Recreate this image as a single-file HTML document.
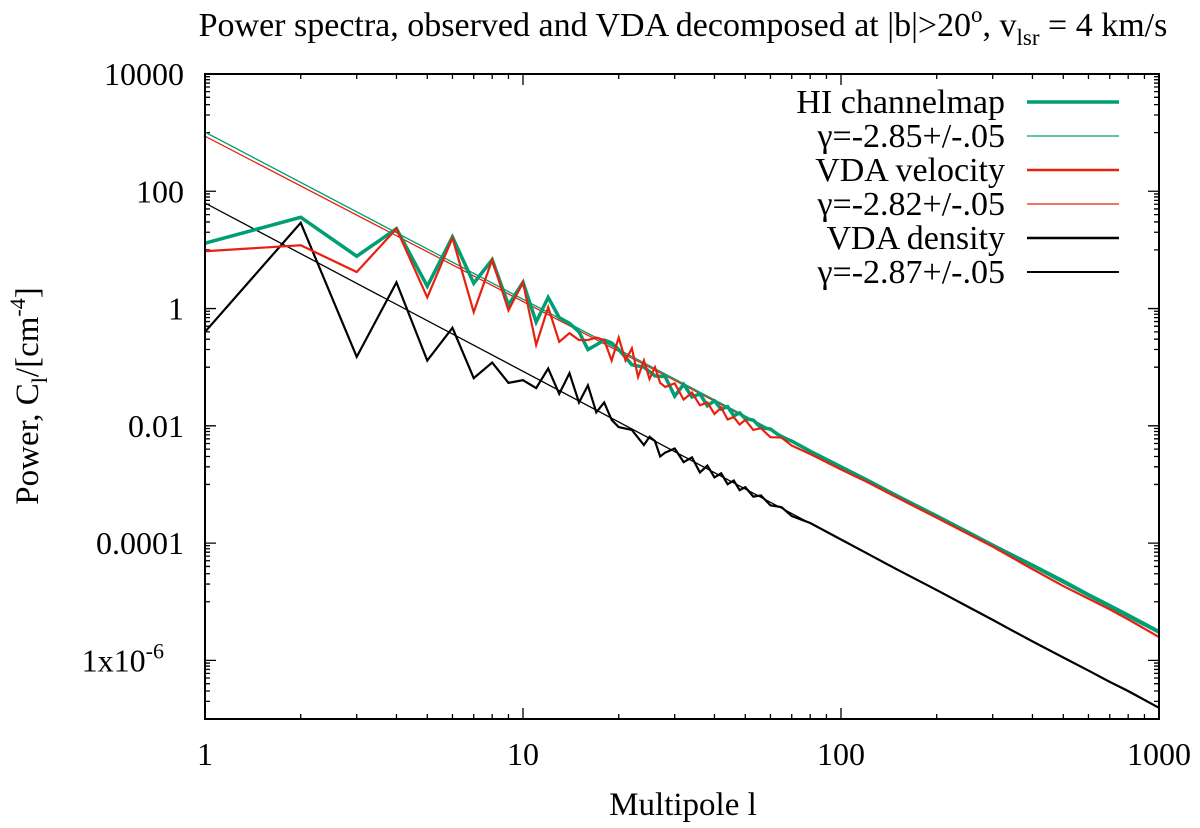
<!DOCTYPE html>
<html><head><meta charset="utf-8"><style>
html,body{margin:0;padding:0;background:#fff;}
svg{display:block;font-family:"Liberation Serif",serif;}
</style></head><body>
<svg id="chart" width="1200" height="828" viewBox="0 0 1200 828" xmlns="http://www.w3.org/2000/svg">
<text x="683" y="36" font-size="34" text-anchor="middle">Power spectra, observed and VDA decomposed at |b|&gt;20<tspan dy="-14" font-size="23">o</tspan><tspan dy="14">, v</tspan><tspan dy="9" font-size="23">lsr</tspan><tspan dy="-9"> = 4 km/s</tspan></text>
<text x="683" y="815" font-size="33" text-anchor="middle">Multipole l</text>
<text transform="translate(38,396) rotate(-90)" font-size="33" text-anchor="middle">Power,  C<tspan dy="9" font-size="22">l</tspan><tspan dy="-9">/[cm</tspan><tspan dy="-13" font-size="22">-4</tspan><tspan dy="13">]</tspan></text>
<g id="plot"></g>
<g id="legend"></g>
</svg>
<script>
// ---- data ----
const hiL = [1,2,3,4,5,6,7,8,9,10,11,12,13,14,15,16,17,18,19,20,22,24,26,28,30,32,34,36,38,40,42,44,46,48,50,53,56,60,65,70,80,100,120,150,200,250,300,400,500,600,700,800,1000];
const hiVals = [13,36,7.8,23,2.4,16.6,2.7,6.8,1.15,2.8,0.59,1.55,0.7,0.56,0.4,0.2,0.24,0.29,0.26,0.2,0.11,0.1,0.071,0.069,0.032,0.051,0.031,0.035,0.022,0.0267,0.0192,0.0212,0.0148,0.0166,0.0132,0.0125,0.0093,0.0088,0.0064,0.0055,0.0037,0.002,0.00121,0.00064,0.00029,0.000155,0.000092,0.000042,0.0000225,0.0000132,0.0000086,0.0000059,0.0000031];
const velL = [1,2,3,4,5,6,7,8,9,10,11,12,13,14,15,16,17,18,19,20,21,22,23,24,25,26,27,28,30,32,34,36,38,40,42,44,46,48,50,53,56,60,65,70,80,100,120,150,200,250,300,400,500,600,700,800,1000];
const velVals = [9.5,12,4.2,23,1.55,16,0.87,6.8,0.93,2.8,0.24,1.05,0.27,0.38,0.29,0.29,0.32,0.29,0.13,0.32,0.13,0.21,0.068,0.13,0.063,0.1,0.054,0.046,0.053,0.028,0.037,0.0224,0.025,0.0159,0.0205,0.0128,0.0141,0.0105,0.0126,0.0085,0.0091,0.0064,0.0063,0.0046,0.0033,0.0018,0.00112,0.0006,0.00027,0.000145,0.000087,0.000036,0.0000185,0.0000113,0.0000074,0.000005,0.0000025];
const denL = [1,2,3,4,5,6,7,8,9,10,11,12,13,14,15,16,17,18,19,20,22,24,25,26,27,28,30,32,34,36,38,40,42,44,46,48,50,53,56,60,65,70,80,100,120,150,200,250,300,400,500,600,700,800,1000];
const denVals = [0.4,29,0.15,2.8,0.13,0.47,0.065,0.12,0.054,0.06,0.044,0.095,0.035,0.079,0.025,0.049,0.017,0.025,0.0126,0.0095,0.0085,0.0047,0.0065,0.0055,0.003,0.0035,0.0041,0.0024,0.0029,0.0016,0.0021,0.00132,0.00155,0.00101,0.00117,0.0008,0.0009,0.00062,0.00065,0.00044,0.00041,0.00029,0.00022,0.000115,0.000068,0.0000355,0.0000158,0.0000083,0.0000049,0.0000021,0.00000112,0.00000067,0.00000043,0.0000003,0.000000155];
const fitAmp = [1020, 870, 63];
const fitGamma = [-2.85, -2.82, -2.87];
const xTickVals = [1,10,100,1000];
const xTickLabels = ["1","10","100","1000"];
const yTickExp = [4,2,0,-2,-4,-6];
const yTickLabels = ["10000","100","1","0.01","0.0001","1x10"];
const legendLabels = ["HI channelmap","γ=-2.85+/-.05","VDA velocity","γ=-2.82+/-.05","VDA density","γ=-2.87+/-.05"];

// ---- axes ----
const L=205,R=1159,T=74,B=719;
const xMinE=0,xMaxE=3,yMinE=-7,yMaxE=4;
function xs(v){return L+(Math.log10(v)-xMinE)/(xMaxE-xMinE)*(R-L);}
function ys(v){return B-(Math.log10(v)-yMinE)/(yMaxE-yMinE)*(B-T);}
const NS="http://www.w3.org/2000/svg";
const plot=document.getElementById('plot');
const legend=document.getElementById('legend');
function mk(tag,attrs,parent){const e=document.createElementNS(NS,tag);for(const k in attrs)e.setAttribute(k,attrs[k]);parent.appendChild(e);return e;}
const GREEN="#009e73",RED="#e8200f",BLACK="#000";

const defs=mk('defs',{},plot);
const cp=mk('clipPath',{id:'clip'},defs);
mk('rect',{x:L,y:T,width:R-L,height:B-T},cp);

const ticks=mk('g',{},plot);


let tp='';
for(let e=0;e<3;e++){for(let m=2;m<=9;m++){const x=xs(m*Math.pow(10,e));tp+=`M${x} ${B}v-5M${x} ${T}v5`;}}
xTickVals.forEach(v=>{const x=xs(v);tp+=`M${x} ${B}v-11M${x} ${T}v11`;});
yTickExp.forEach(e=>{const y=ys(Math.pow(10,e));tp+=`M${L} ${y}h11M${R} ${y}h-11`;
 for(let m=1;m<=9;m++){const yy=ys(m*Math.pow(10,e-1));if(yy<=B+0.1)tp+=`M${L} ${yy}h5M${R} ${yy}h-5`;}});
mk('path',{d:tp,stroke:'#000','stroke-width':1.3,fill:'none'},ticks);

xTickVals.forEach((v,i)=>{const t=mk('text',{x:xs(v),y:765,'font-size':32,'text-anchor':'middle'},plot);t.textContent=xTickLabels[i];
 
 });
yTickExp.forEach((e,i)=>{const y=ys(Math.pow(10,e));const t=mk('text',{x:184,y:y+11,'font-size':32,'text-anchor':'end'},plot);
 
 
 if(yTickLabels[i]==="1x10"){t.setAttribute('x',164);t.textContent="1x10";const s=mk('tspan',{dy:-13,'font-size':22},t);s.textContent="-6";}
 else t.textContent=yTickLabels[i];});

function line(ls,vs,color,w,name){let d='';ls.forEach((l,i)=>{d+=(i?'L':'M')+xs(l).toFixed(2)+' '+ys(vs[i]).toFixed(2);});
 const p=mk('path',{d:d,stroke:color,'stroke-width':w,fill:'none','stroke-linejoin':'miter','clip-path':'url(#clip)'},plot);
 
 }
function fit(i,color,name){const ls=[1,1000];const vs=ls.map(l=>fitAmp[i]*Math.pow(l,fitGamma[i]));line(ls,vs,color,1.3,name);}
fit(2,BLACK,'density-fit-line');
fit(1,RED,'velocity-fit-line');
fit(0,GREEN,'hi-fit-line');
line(denL,denVals,BLACK,2.2,'vda-density-line');
line(hiL,hiVals,GREEN,3.5,'hi-channelmap-line');
line(velL,velVals,RED,2.2,'vda-velocity-line');

const fr=mk('rect',{x:L,y:T,width:R-L,height:B-T,fill:'none',stroke:'#000','stroke-width':2},plot);



const lc=[GREEN,GREEN,RED,RED,BLACK,BLACK];const lw=[3.5,1.3,2.5,1.3,2.5,2];
legendLabels.forEach((s,i)=>{const y=102+i*34;
 const t=mk('text',{x:1005,y:y+11,'font-size':34,'text-anchor':'end'},legend);t.textContent=s;
 
 
 const l=mk('line',{x1:1027,x2:1119,y1:y,y2:y,stroke:lc[i],'stroke-width':lw[i]},legend);
 
 });
</script>
</body></html>
